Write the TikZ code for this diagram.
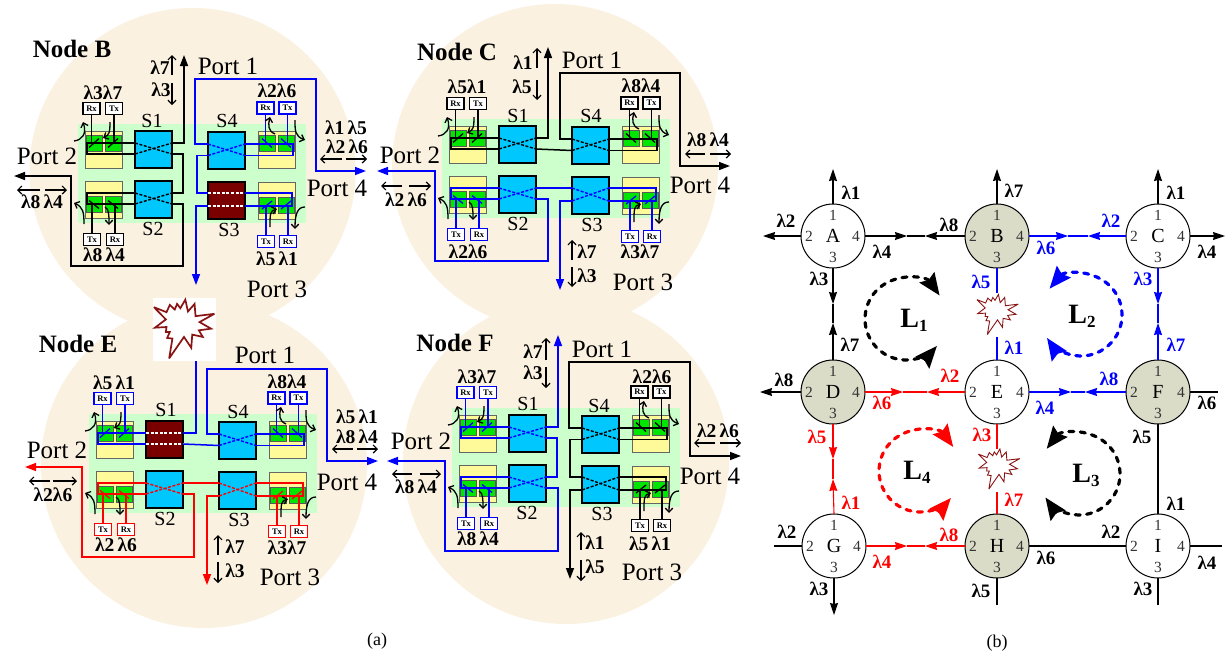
\documentclass[tikz,border=0pt]{standalone}
\usepackage{fontspec}
\setmainfont{Liberation Serif}
\usetikzlibrary{arrows.meta,calc}
\definecolor{cream}{HTML}{FBF1E0}
\definecolor{bggreen}{HTML}{CCFFCC}
\definecolor{yel}{HTML}{FFFA99}
\definecolor{grn}{HTML}{00E600}
\definecolor{swblue}{HTML}{00C8FF}
\definecolor{swfail}{HTML}{7A0000}
\definecolor{olive}{HTML}{DADCC8}
\definecolor{burstred}{HTML}{8A1414}
\definecolor{numgray}{HTML}{333333}
\newcounter{lb}
\tikzset{
  wire/.style={line width=1.5pt},
  wirearrow/.style={line width=1.5pt,-{Triangle[length=11pt,width=8pt]}},
  yelbox/.style={draw=black!60,line width=1pt,fill=yel,minimum width=37pt,minimum height=37pt,inner sep=0pt,outer sep=0pt},
  grnbox/.style={draw=black!65,line width=.9pt,fill=grn,minimum width=16pt,minimum height=16pt,inner sep=0pt,outer sep=0pt},
  swbox/.style={draw=black,line width=1.5pt,minimum width=37pt,minimum height=37pt,inner sep=0pt,outer sep=0pt},
  trx/.style={draw,line width=1.4pt,fill=white,text=black,minimum width=17pt,minimum height=12pt,inner sep=0pt,outer sep=0pt,font=\fontsize{8.5}{9}\selectfont\bfseries},
  xdash/.style={line width=1.4pt,dash pattern=on 3pt off 1.6pt},
  faildash/.style={white,line width=1.4pt,dash pattern=on 3pt off 1.6pt},
  bent/.style={black,line width=1.3pt,-{Straight Barb[length=4pt,width=7.5pt]}},
  lamarrow/.style={black,line width=1.2pt,-{Straight Barb[length=4pt,width=8pt]}},
  txt/.style={inner sep=0pt,outer sep=0pt,anchor=center},
  rcirc/.style={circle,draw=black,line width=1pt,minimum size=64pt,inner sep=0pt,outer sep=0pt,font=\fontsize{20}{22}\selectfont},
  edge2/.style={line width=1.1pt},
  edgetip/.style={line width=1.1pt,-{Stealth[length=12pt,width=8pt,inset=1pt]}},
  loopline/.style={line width=3.2pt,line cap=round,dash pattern=on 5pt off 6.5pt,{Stealth[length=22pt,width=18pt,inset=3pt,line cap=butt]}-{Stealth[length=22pt,width=18pt,inset=3pt,line cap=butt]}},
}
% text labels: \lbl[colour]{x,y}{text}, sizes by variants
\newcommand\lbl[3][black]{\stepcounter{lb}\node[txt,text=#1,font=\fontsize{19.5}{21}\selectfont\bfseries] (lb\arabic{lb}) at (#2) {#3};}
\newcommand\lblr[3][black]{\stepcounter{lb}\node[txt,text=#1,font=\fontsize{19}{21}\selectfont\bfseries] (lb\arabic{lb}) at (#2) {#3};}
\newcommand\prt[2]{\stepcounter{lb}\node[txt,font=\fontsize{25}{27}\selectfont] (lb\arabic{lb}) at (#1) {#2};}
\newcommand\swl[2]{\stepcounter{lb}\node[txt,font=\fontsize{20}{22}\selectfont] (lb\arabic{lb}) at (#1) {#2};}
\newcommand\nod[2]{\stepcounter{lb}\node[txt,font=\fontsize{25}{27}\selectfont\bfseries] (lb\arabic{lb}) at (#1) {#2};}
\newcommand\larr[2]{\stepcounter{lb}\coordinate (la\arabic{lb}) at (#1);\coordinate (lz\arabic{lb}) at (#2);\draw[lamarrow] (la\arabic{lb}) -- (lz\arabic{lb});}
% switch: name x y colour upper lower
\newcommand\swok[6]{%
  \node[swbox,fill=swblue] (#1) at (#2+18.5,#3+18.5) {};
  \coordinate (#1lu) at (#2,#3+#5);\coordinate (#1ll) at (#2,#3+#6);
  \coordinate (#1ru) at (#2+37,#3+#5);\coordinate (#1rl) at (#2+37,#3+#6);
  \draw[xdash,#4] (#1lu) -- (#1rl);
  \draw[xdash,#4] (#1ll) -- (#1ru);}
\newcommand\swbad[6]{%
  \node[swbox,fill=swfail] (#1) at (#2+18.5,#3+18.5) {};
  \coordinate (#1lu) at (#2,#3+#5);\coordinate (#1ll) at (#2,#3+#6);
  \coordinate (#1ru) at (#2+37,#3+#5);\coordinate (#1rl) at (#2+37,#3+#6);
  \draw[faildash] (#1lu) -- (#1ru);
  \draw[faildash] (#1ll) -- (#1rl);}
% block: name x y greenoffset
\newcommand\qd[4]{%
  \node[yelbox] (#1) at (#2+18.5,#3+18.5) {};
  \node[grnbox] (#1a) at (#2+9,#3+#4) {};
  \node[grnbox] (#1b) at (#2+28,#3+#4) {};}
\newcommand\mirror[3]{% name colour dy
  \draw[line width=1.3pt,#2] ($(#1a)+(-5,#3)$) -- ($(#1a)+(5,{-1*(#3)})$);
  \draw[line width=1.3pt,#2] ($(#1b)+(-5,#3)$) -- ($(#1b)+(5,{-1*(#3)})$);}
% panel: prefix ox oy colTL colBL colTR colBR S1macro S3macro
\newcommand\panel[9]{%
\begin{scope}[shift={(#2,#3)}]
  \fill[bggreen] (78,124) rectangle (306,223);
  \qd{#1TL}{85}{131}{12}
  \qd{#1BL}{85}{181}{23.5}
  \qd{#1TR}{258}{131}{12}
  \qd{#1BR}{258}{182}{23}
  #8{#1S1}{135}{131}{#4}{12}{23}
  \swok{#1S2}{135}{181}{#5}{12}{23}
  \swok{#1S4}{208}{132}{#6}{12}{23.5}
  #9{#1S3}{208}{182}{#7}{11}{24}
  % loops between the switch and its mux/demux pair
  \draw[wire,#4] (#1S1lu) -- ++(-48,0) |- (#1S1ll);
  \draw[wire,#5] (#1S2lu) -- ++(-48,0) |- (#1S2ll);
  \draw[wire,#6] (#1S4ru) -- ++(48,0) |- (#1S4rl);
  \draw[wire,#7] (#1S3ru) -- ++(47,0) |- (#1S3rl);
  % transmitters and receivers
  \node[trx,draw=#4] (#1rxTL) at (91.5,108.5) {Rx};
  \node[trx,draw=#4] (#1txTL) at (114,108.5) {Tx};
  \node[trx,draw=#5] (#1txBL) at (92,239.5) {Tx};
  \node[trx,draw=#5] (#1rxBL) at (115,239.5) {Rx};
  \node[trx,draw=#6] (#1rxTR) at (265.5,108) {Rx};
  \node[trx,draw=#6] (#1txTR) at (287.5,108) {Tx};
  \node[trx,draw=#7] (#1txBR) at (266,241.5) {Tx};
  \node[trx,draw=#7] (#1rxBR) at (288,241.5) {Rx};
  \draw[wire,#4] (#1rxTL) -- (#1rxTL |- #1TLa);
  \draw[wire,#4] (#1txTL) -- (#1txTL |- #1TLb);
  \draw[wire,#5] (#1txBL) -- (#1txBL |- #1BLa);
  \draw[wire,#5] (#1rxBL) -- (#1rxBL |- #1BLb);
  \draw[wire,#6] (#1rxTR) -- (#1rxTR |- #1TRa);
  \draw[wire,#6] (#1txTR) -- (#1txTR |- #1TRb);
  \draw[wire,#7] (#1txBR) -- (#1txBR |- #1BRa);
  \draw[wire,#7] (#1rxBR) -- (#1rxBR |- #1BRb);
  \mirror{#1TL}{#4}{4.5}
  \mirror{#1BL}{#5}{-4}
  \mirror{#1TR}{#6}{-4.5}
  \mirror{#1BR}{#7}{4}
  % bent add/drop arrows
  \draw[bent] (74,141) .. controls (82,140) and (87,134) .. (83,122);
  \draw[bent] (110,122) .. controls (110,133) and (109,135) .. (103,138);
  \draw[bent] (84,224) .. controls (84,212) and (83,207) .. (74,203);
  \draw[bent] (105,207) .. controls (109,209) and (109,215) .. (109,225);
  \draw[bent] (275,134) .. controls (268,131) and (268,125) .. (270,117);
  \draw[bent] (295,120) .. controls (295,131) and (295,136) .. (305,140);
  \draw[bent] (305,207) .. controls (298,207) and (295,213) .. (295,229);
  \draw[bent] (270,227) .. controls (270,214) and (270,211) .. (277,209);
\end{scope}}
\newcommand\burst[5]{% name x y scale linewidth
\begin{scope}[shift={(#2,#3)},x=#4pt,y=-#4pt]
  \draw[burstred,line width=#5pt,fill=white,line join=miter,miter limit=4]
   (-91,-66)--(-53,-51)--(-43,-73)--(-28,-59)--(-21,-76)--(-11,-63)--(4,-89)--(12,-53)--(32,-76)--(35,-39)--(92,-46)--(47,-21)--(82,-1)--(45,4)--(57,24)--(25,17)--(22,57)--(0,24)--(-45,89)--(-35,29)--(-51,27)--(-43,9)--(-55,9)--(-53,-6)--(-88,-4)--(-55,-29)--cycle;
\end{scope}}
% right graph
\newcommand\rn[5]{% name x y fill letter
  \node[rcirc,fill=#4] (#1) at (#2,#3) {#5};
  \node[txt,text=numgray,font=\fontsize{15.5}{16}\selectfont] (#1n1) at ($(#1)+(0,-21)$) {1};
  \node[txt,text=numgray,font=\fontsize{15.5}{16}\selectfont] (#1n2) at ($(#1)+(-24,0)$) {2};
  \node[txt,text=numgray,font=\fontsize{15.5}{16}\selectfont] (#1n3) at ($(#1)+(0,21)$) {3};
  \node[txt,text=numgray,font=\fontsize{15.5}{16}\selectfont] (#1n4) at ($(#1)+(23,0)$) {4};}
% two-way link
\newcommand\lnk[7]{%
  \coordinate (#6) at (#4);\coordinate (#7) at (#5);
  \draw[edge2,#1] (#6) -- (#7);
  \draw[edgetip,#1] (#2) -- (#6);
  \draw[edgetip,#1] (#3) -- (#7);}
\newcommand\loopL[7]{% colour cx cy start end sub labelpos
  \coordinate (loopc#6) at (#2,#3);
  \draw[loopline,#1] (loopc#6) ++(#4:41) arc[start angle=#4,end angle=#5,radius=41];
  \stepcounter{lb}\node[txt,font=\fontsize{28}{30}\selectfont\bfseries] (lb\arabic{lb}) at (#7) {L\raisebox{-4pt}{\fontsize{17}{18}\selectfont #6}};}
\begin{document}
\begin{tikzpicture}[x=1pt,y=-1pt]
\useasboundingbox (0,0) rectangle (1225,654);
\fill[white] (0,0) rectangle (1225,654);
% cream discs
\fill[cream] (192.5,171) circle[radius=163];
\fill[cream] (555,167) circle[radius=163];
\fill[cream] (204,465) circle[radius=163];
\fill[cream] (566,461) circle[radius=163];
% white box with burst
\node[fill=white,minimum width=63pt,minimum height=63pt,inner sep=0pt,outer sep=0pt] (failbox) at (184.5,329.5) {};
\burst{burstA}{184}{329}{.33}{1.7}

% ---------- Node B
\panel{b}{0}{0}{black}{black}{blue}{blue}{\swok}{\swbad}
\coordinate (bP1) at (184,55);\coordinate (bP2) at (14,176);\coordinate (bP3) at (196,285);\coordinate (bP4) at (366,171);
\draw[wirearrow,black] (bS1ru) -| (bP1);
\draw[wire,black] (bS1rl) -| (183,193) -- (bS2ru);
\draw[wirearrow,black] (bS2rl) -| (183,266) -| (71,176) -- (bP2);
\draw[wirearrow,blue] (bS4lu) -| (195,79) -| (316,171) -- (bP4);
\draw[wire,blue] (bS4ll) -| (197,193) -- (bS3lu);
\draw[wirearrow,blue] (bS3ll) -| (bP3);
\nod{72,49}{Node B}
\prt{228,66}{Port 1}\prt{47,156}{Port 2}\prt{277,289}{Port 3}\prt{337,188}{Port 4}
\swl{152,121}{S1}\swl{153,229}{S2}\swl{229,230}{S3}\swl{227,121}{S4}
\lbl{160,68}{λ7}\lbl{161,90}{λ3}
\larr{172,75}{172,55}\larr{172,83}{172,105}
\lbl{103,93}{λ3λ7}\lbl{277,91}{λ2λ6}
\lbl{104,255}{λ8\,λ4}\lbl{277,259}{λ5\,λ1}
\lbl{346,128}{λ1\,λ5}\lbl{347,147}{λ2\,λ6}
\larr{342,159}{320,159}\larr{346,159}{367,159}
\lbl{42,202}{λ8\,λ4}
\larr{40,190}{17,190}\larr{45,190}{67,190}

% ---------- Node C
\panel{c}{364}{-5}{black}{blue}{black}{blue}{\swok}{\swok}
\coordinate (cP1) at (548,47);\coordinate (cP2) at (377,171);\coordinate (cP3) at (560,290);\coordinate (cP4) at (730,166);
\draw[wirearrow,black] (cS1ru) -| (cP1);
\draw[wire,black] (cS1rl) -- (cS4ll);
\draw[wirearrow,black] (cS4lu) -| (560,73) -| (680,166) -- (cP4);
\draw[wire,blue] (cS2ru) -- (cS3lu);
\draw[wirearrow,blue] (cS2rl) -| (548,261) -| (435,171) -- (cP2);
\draw[wirearrow,blue] (cS3ll) -| (cP3);
\nod{457,52}{Node C}
\prt{592,60}{Port 1}\prt{410,155}{Port 2}\prt{643,282}{Port 3}\prt{700,185}{Port 4}
\swl{518,116}{S1}\swl{518,224}{S2}\swl{592,225}{S3}\swl{591,116}{S4}
\lbl{523,63}{λ1}\lbl{522,87}{λ5}
\larr{537,68}{537,48}\larr{537,80}{537,100}
\lbl{467,87}{λ5λ1}\lbl{641,86}{λ8λ4}
\lbl{468,252}{λ2λ6}\lbl{640,252}{λ3λ7}
\lbl{708,140}{λ8\,λ4}
\larr{705,154}{685,154}\larr{710,154}{731,154}
\lbl{406,200}{λ2\,λ6}
\larr{402,186}{381,186}\larr{409,186}{431,186}
\larr{572,260}{572,240}\larr{572,267}{572,287}
\lbl{587,252}{λ7}\lbl{587,276}{λ3}

% ---------- Node E
\panel{e}{11}{290}{blue}{red}{blue}{red}{\swbad}{\swok}
\coordinate (eP2) at (25,467);\coordinate (eP3) at (207,585);\coordinate (eP4) at (378,461);
\draw[wire,blue] (eS1ru) -| (failbox.south -| 196,0);
\draw[wire,blue] (eS1rl) -- (eS4ll);
\draw[wirearrow,blue] (eS4lu) -| (207,369) -| (327,461) -- (eP4);
\draw[wire,red] (eS2ru) -- (eS3lu);
\draw[wirearrow,red] (eS2rl) -| (194,557) -| (82,467) -- (eP2);
\draw[wirearrow,red] (eS3ll) -| (eP3);
\nod{78,344}{Node E}
\prt{265,355}{Port 1}\prt{57,450}{Port 2}\prt{290,577}{Port 3}\prt{347,482}{Port 4}
\swl{166,410}{S1}\swl{165,519}{S2}\swl{239,520}{S3}\swl{238,412}{S4}
\lbl{114,383}{λ5\,λ1}\lbl{287,382}{λ8λ4}
\lbl{116,545}{λ2\,λ6}\lbl{287,548}{λ3λ7}
\lbl{357,417}{λ5\,λ1}\lbl{357,437}{λ8\,λ4}
\larr{353,449}{332,449}\larr{357,449}{378,449}
\lbl{53,495}{λ2λ6}
\larr{50,481}{29,481}\larr{53,481}{77,481}
\larr{218,555}{218,535}\larr{218,562}{218,583}
\lbl{235,547}{λ7}\lbl{235,571}{λ3}

% ---------- Node F
\panel{f}{374}{284}{blue}{blue}{black}{black}{\swok}{\swok}
\coordinate (fP1) at (558,335);\coordinate (fP2) at (387,461);\coordinate (fP3) at (570,579);\coordinate (fP4) at (741,456);
\draw[wirearrow,blue] (fS1ru) -| (fP1);
\draw[wire,blue] (fS1rl) -| (557,477) -- (fS2ru);
\draw[wirearrow,blue] (fS2rl) -| (558,551) -| (445,461) -- (fP2);
\draw[wirearrow,black] (fS4lu) -| (569,362) -| (690,456) -- (fP4);
\draw[wire,black] (fS4ll) -| (570,477) -- (fS3lu);
\draw[wirearrow,black] (fS3ll) -| (fP3);
\nod{455,343}{Node F}
\prt{602,349}{Port 1}\prt{421,441}{Port 2}\prt{652,572}{Port 3}\prt{710,476}{Port 4}
\swl{528,404}{S1}\swl{527,513}{S2}\swl{602,514}{S3}\swl{599,406}{S4}
\lbl{533,352}{λ7}\lbl{533,373}{λ3}
\larr{546,360}{546,338}\larr{546,367}{546,388}
\lbl{477,377}{λ3λ7}\lbl{652,377}{λ2λ6}
\lbl{478,539}{λ8\,λ4}\lbl{650,544}{λ5\,λ1}
\lbl{718,431}{λ2\,λ6}
\larr{715,443}{694,443}\larr{720,443}{741,443}
\lbl{416,487}{λ8\,λ4}
\larr{412,474}{392,474}\larr{420,474}{441,474}
\larr{581,550}{581,532}\larr{581,560}{581,581}
\lbl{595,543}{λ1}\lbl{595,567}{λ5}

\node[txt,font=\fontsize{18}{20}\selectfont] (capa) at (377,641) {(a)};
\node[txt,font=\fontsize{18}{20}\selectfont] (capb) at (997,643) {(b)};

% ---------- right graph
\coordinate (Aup) at (833,169);\coordinate (Alf) at (763,236);
\coordinate (Bup) at (997,169);\coordinate (Cup) at (1158,169);\coordinate (Crt) at (1225,236);
\coordinate (Dlf) at (760,392);\coordinate (Frt) at (1218,392);
\coordinate (Glf) at (774,546);\coordinate (Gdn) at (834,615);
\coordinate (Hdn) at (997,605);\coordinate (Idn) at (1158,605);\coordinate (Irt) at (1222,546);
\coordinate (Bcut) at (997,293);\coordinate (Ecut) at (997,337);
\coordinate (Ecut2) at (997,449);\coordinate (Hcut) at (997,492);

\rn{A}{833}{236}{white}{A}
\rn{B}{997}{236}{olive}{B}
\rn{C}{1158}{236}{white}{C}
\rn{D}{833}{392}{olive}{D}
\rn{E}{997}{392}{white}{E}
\rn{F}{1158}{392}{olive}{F}
\rn{G}{834}{546}{white}{G}
\rn{H}{997}{546}{olive}{H}
\rn{I}{1158}{546}{white}{I}

\draw[edgetip] (A.north) -- (Aup);
\draw[edgetip] (A.west) -- (Alf);
\draw[edgetip] (B.north) -- (Bup);
\draw[edgetip] (C.north) -- (Cup);
\draw[edgetip] (C.east) -- (Crt);
\draw[edgetip] (D.west) -- (Dlf);
\draw[edge2] (F.east) -- (Frt);
\draw[edge2] (G.west) -- (Glf);
\draw[edgetip] (G.south) -- (Gdn);
\draw[edge2] (H.south) -- (Hdn);
\draw[edge2] (I.south) -- (Idn);
\draw[edge2] (I.east) -- (Irt);
\lnk{black}{A.east}{B.west}{907,236}{925,236}{abA}{abB}
\lnk{blue}{B.east}{C.west}{1068,236}{1088,236}{bcB}{bcC}
\lnk{black}{A.south}{D.north}{833,304}{833,323}{adA}{adD}
\lnk{blue}{C.south}{F.north}{1158,304}{1158,323}{cfC}{cfF}
\lnk{red}{D.east}{E.west}{903,392}{927,392}{deD}{deE}
\lnk{blue}{E.east}{F.west}{1071,392}{1085,392}{efE}{efF}
\lnk{red}{D.south}{G.north}{833,459}{833,479}{dgD}{dgG}
\lnk{red}{G.east}{H.west}{907,546}{925,546}{ghG}{ghH}
\draw[edge2,blue] (B.south) -- (Bcut);
\draw[edge2,blue] (E.north) -- (Ecut);
\draw[edge2,red] (E.south) -- (Ecut2);
\draw[edge2,red] (H.north) -- (Hcut);
\draw[edge2] (F.south) -- (I.north);
\draw[edge2] (H.east) -- (I.west);

\burst{burstB}{997.5}{314.5}{.225}{.9}
\burst{burstC}{999}{469}{.225}{.9}

\loopL{black}{906}{319}{-35}{-319}{1}{914,320}
\loopL{blue}{1081}{315}{-140}{146}{2}{1082,316}
\loopL{black}{1079}{474}{-142}{145}{3}{1086,475}
\loopL{red}{920}{471}{-36}{-319}{4}{917,472}

% lambda labels
\lblr{851,193}{λ1}\lblr{786,221}{λ2}\lblr{882,252}{λ4}\lblr{819,279}{λ3}
\lblr{1014,191}{λ7}\lblr{949,225}{λ8}\lblr[blue]{1046,248}{λ6}\lblr[blue]{981,282}{λ5}
\lblr{1176,193}{λ1}\lblr[blue]{1111,221}{λ2}\lblr{1207,252}{λ4}\lblr[blue]{1143,279}{λ3}
\lblr{850,345}{λ7}\lblr{784,380}{λ8}\lblr[red]{882,403}{λ6}\lblr[red]{817,437}{λ5}
\lblr[blue]{1014,348}{λ1}\lblr[red]{950,376}{λ2}\lblr[blue]{1045,408}{λ4}\lblr[red]{982,435}{λ3}
\lblr[blue]{1176,345}{λ7}\lblr[blue]{1109,379}{λ8}\lblr{1207,403}{λ6}\lblr{1142,437}{λ5}
\lblr[red]{851,503}{λ1}\lblr{787,532}{λ2}\lblr[red]{882,562}{λ4}\lblr{819,589}{λ3}
\lblr[red]{1014,500}{λ7}\lblr[red]{949,535}{λ8}\lblr{1046,558}{λ6}\lblr{981,591}{λ5}
\lblr{1176,504}{λ1}\lblr{1111,532}{λ2}\lblr{1207,563}{λ4}\lblr{1143,589}{λ3}
\end{tikzpicture}
\end{document}
